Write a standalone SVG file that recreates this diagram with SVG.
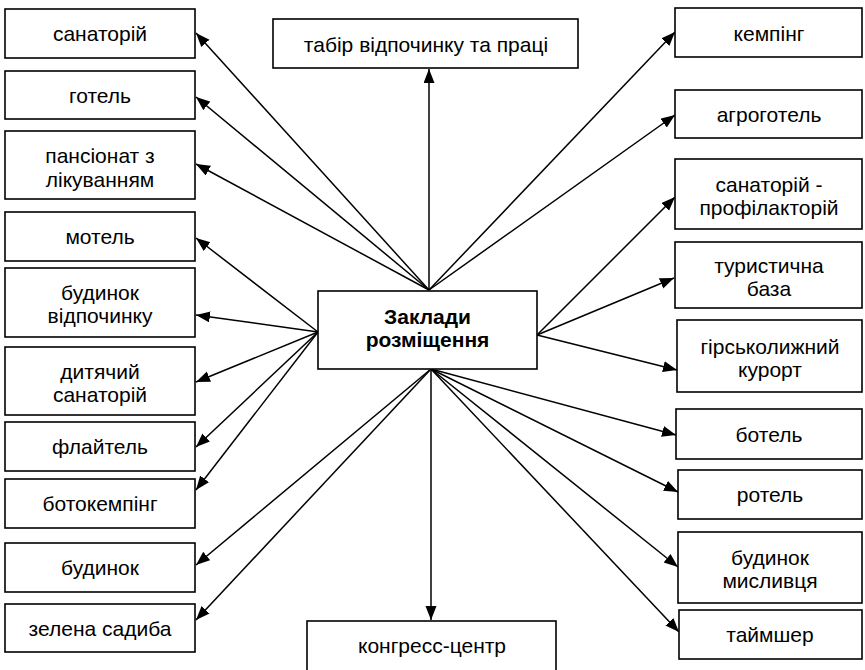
<svg xmlns="http://www.w3.org/2000/svg" width="865" height="670" viewBox="0 0 865 670">
<defs>
<style>
.box{fill:#fff;stroke:#000;stroke-width:1.6}
.t{font-family:"Liberation Sans",Arial,sans-serif;font-size:21px;fill:#000;text-anchor:middle}
.b{font-weight:bold}
.c line{stroke:#000;stroke-width:1.5;marker-end:url(#ah)}
</style>
<marker id="ah" markerUnits="userSpaceOnUse" markerWidth="15" markerHeight="12" refX="14" refY="5.5" orient="auto">
<path d="M0,0 L14,5.5 L0,11 z" fill="#000"/>
</marker>
</defs>
<rect width="865" height="670" fill="#fff"/>
<g id="connectors" class="c">
<line x1="429" y1="290" x2="196" y2="33"/>
<line x1="429" y1="290" x2="196" y2="97"/>
<line x1="429" y1="290" x2="196" y2="164"/>
<line x1="429" y1="290" x2="429" y2="69"/>
<line x1="429" y1="290" x2="675" y2="32"/>
<line x1="429" y1="290" x2="675" y2="115"/>
<line x1="318" y1="332" x2="196" y2="238"/>
<line x1="318" y1="332" x2="196" y2="315"/>
<line x1="318" y1="332" x2="196" y2="382"/>
<line x1="318" y1="332" x2="196" y2="447"/>
<line x1="318" y1="332" x2="196" y2="490"/>
<line x1="537" y1="335" x2="675" y2="197"/>
<line x1="537" y1="335" x2="674" y2="278"/>
<line x1="537" y1="335" x2="677" y2="370"/>
<line x1="431" y1="369" x2="196" y2="565"/>
<line x1="431" y1="369" x2="196" y2="620"/>
<line x1="431" y1="369" x2="431" y2="620"/>
<line x1="431" y1="369" x2="676" y2="435"/>
<line x1="431" y1="369" x2="678" y2="492"/>
<line x1="431" y1="369" x2="678" y2="567"/>
<line x1="431" y1="369" x2="679" y2="632"/>
</g>
<g id="center"><rect class="box" x="318" y="291" width="219" height="78"/><text class="t b" x="427.5" y="323.5">Заклади</text><text class="t b" x="427.5" y="347">розміщення</text></g>
<g id="top"><rect class="box" x="273" y="19" width="305" height="49"/><text class="t" x="426" y="52">табір відпочинку та праці</text></g>
<g id="bottom"><rect class="box" x="307" y="621" width="249" height="60"/><text class="t" x="432" y="653">конгресс-центр</text></g>
<g id="l1"><rect class="box" x="5" y="9" width="190" height="49"/><text class="t" x="100" y="41">санаторій</text></g>
<g id="l2"><rect class="box" x="5" y="71" width="190" height="48"/><text class="t" x="100" y="103">готель</text></g>
<g id="l3"><rect class="box" x="5" y="131" width="190" height="68"/><text class="t" x="100" y="163">пансіонат з</text><text class="t" x="100" y="187">лікуванням</text></g>
<g id="l4"><rect class="box" x="5" y="212" width="190" height="49"/><text class="t" x="100" y="244">мотель</text></g>
<g id="l5"><rect class="box" x="5" y="268" width="190" height="69"/><text class="t" x="100" y="300">будинок</text><text class="t" x="100" y="323">відпочинку</text></g>
<g id="l6"><rect class="box" x="5" y="347" width="190" height="68"/><text class="t" x="100" y="379">дитячий</text><text class="t" x="100" y="402">санаторій</text></g>
<g id="l7"><rect class="box" x="5" y="422" width="190" height="49"/><text class="t" x="100" y="454">флайтель</text></g>
<g id="l8"><rect class="box" x="5" y="479" width="190" height="49"/><text class="t" x="100" y="511">ботокемпінг</text></g>
<g id="l9"><rect class="box" x="5" y="543" width="190" height="49"/><text class="t" x="100" y="575">будинок</text></g>
<g id="l10"><rect class="box" x="5" y="604" width="190" height="48"/><text class="t" x="100" y="636">зелена садиба</text></g>
<g id="r1"><rect class="box" x="675" y="8" width="187" height="49"/><text class="t" x="769" y="41">кемпінг</text></g>
<g id="r2"><rect class="box" x="675" y="90" width="187" height="48"/><text class="t" x="769" y="122">агроготель</text></g>
<g id="r3"><rect class="box" x="675" y="159" width="187" height="70"/><text class="t" x="769" y="192">санаторій -</text><text class="t" x="769" y="215">профілакторій</text></g>
<g id="r4"><rect class="box" x="675" y="242" width="187" height="66"/><text class="t" x="769" y="273">туристична</text><text class="t" x="769" y="296">база</text></g>
<g id="r5"><rect class="box" x="677" y="320" width="185" height="72"/><text class="t" x="770" y="354">гірськолижний</text><text class="t" x="770" y="377">курорт</text></g>
<g id="r6"><rect class="box" x="676" y="409" width="186" height="50"/><text class="t" x="769" y="442">ботель</text></g>
<g id="r7"><rect class="box" x="678" y="470" width="184" height="49"/><text class="t" x="770" y="502">ротель</text></g>
<g id="r8"><rect class="box" x="678" y="532" width="184" height="71"/><text class="t" x="770" y="565">будинок</text><text class="t" x="770" y="588">мисливця</text></g>
<g id="r9"><rect class="box" x="679" y="610" width="183" height="49"/><text class="t" x="770" y="642">таймшер</text></g>
</svg>
